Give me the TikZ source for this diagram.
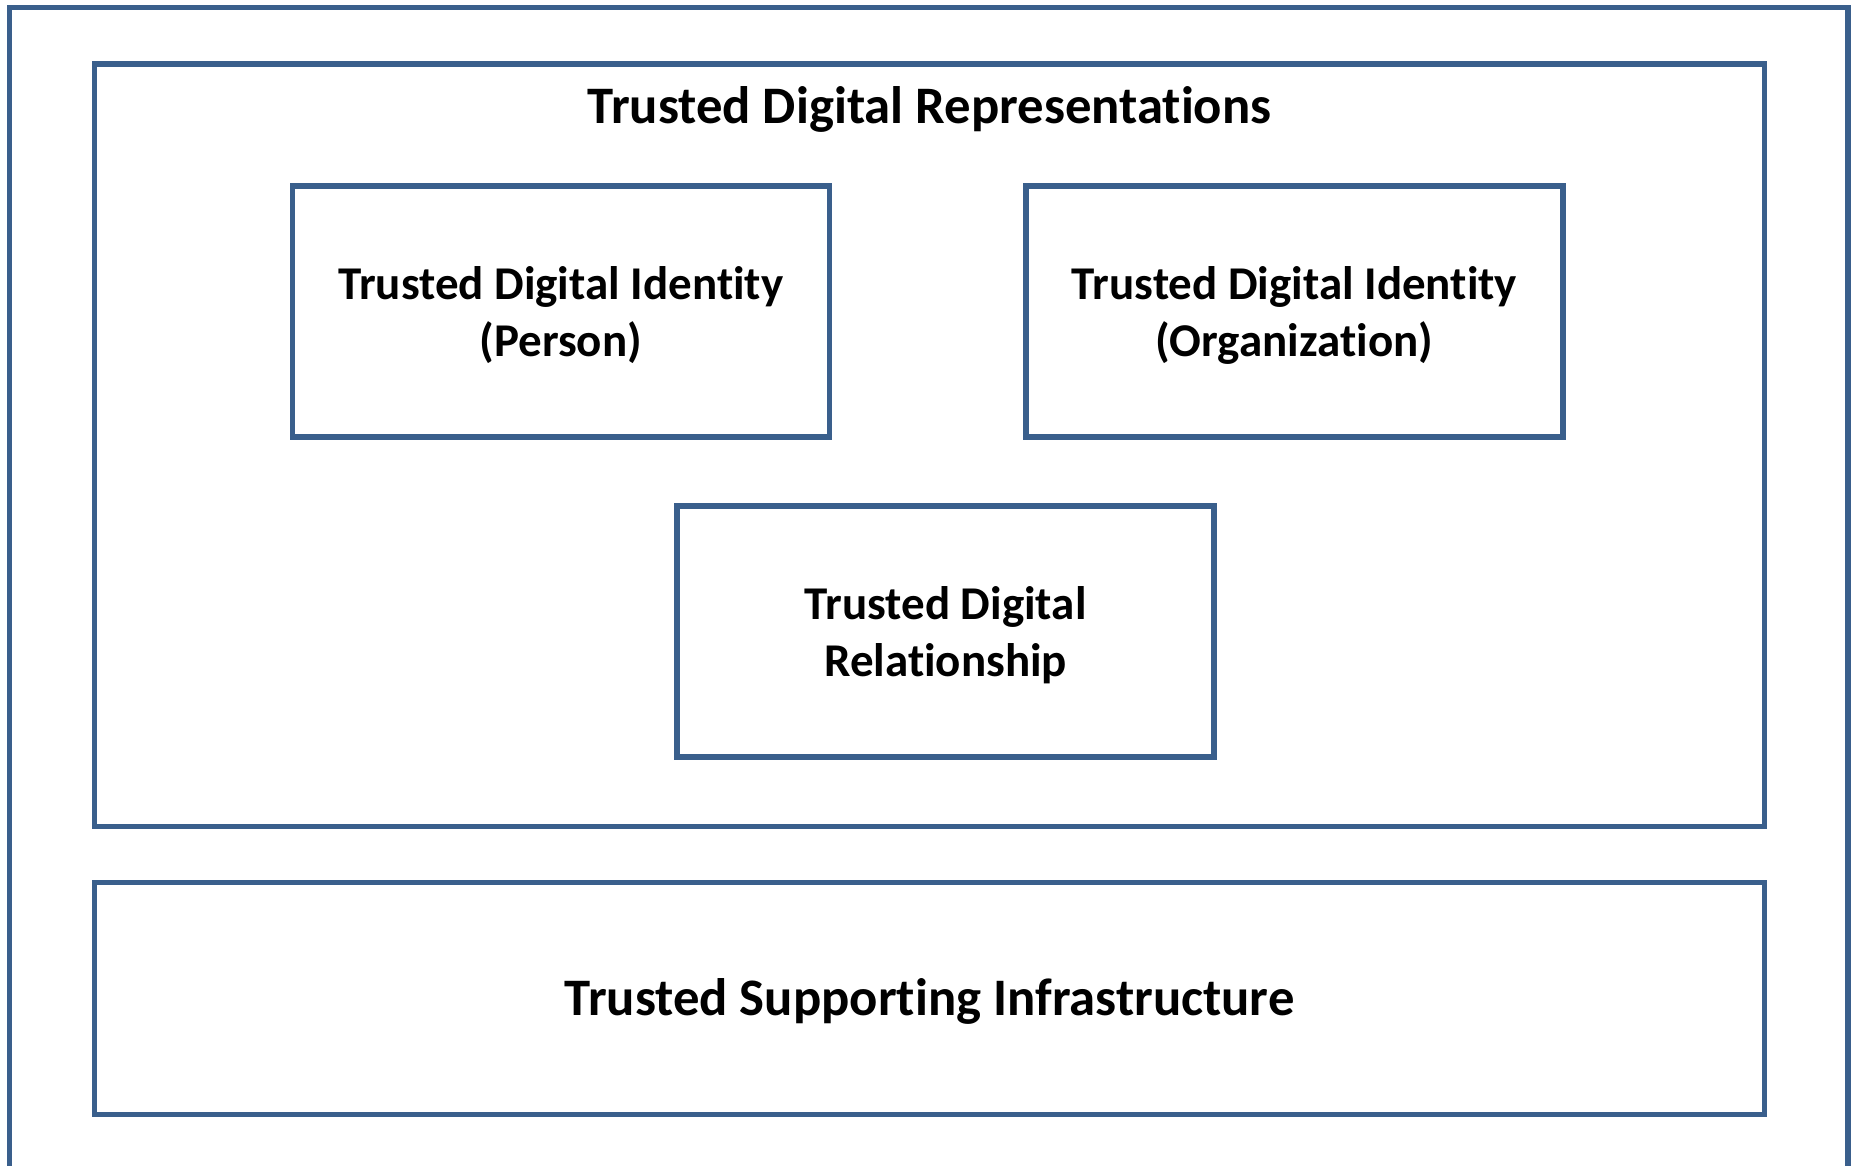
\documentclass[tikz,border=0pt]{standalone}
\usepackage{fontspec}
\setmainfont[Ligatures={CommonOff,ContextualOff,RareOff}]{Carlito}
\definecolor{boxblue}{HTML}{3A5F8C}
\begin{document}
\begin{tikzpicture}[x=1pt,y=-1pt,
  frame/.style={draw=boxblue,line width=5.5pt,rectangle,inner sep=0pt,outer sep=0pt},
  smalltext/.style={inner sep=0pt,align=center,font=\fontsize{47}{57}\selectfont\bfseries},
  bigtext/.style={inner sep=0pt,align=center,font=\fontsize{52.7}{63}\selectfont\bfseries}]
\useasboundingbox (0,0) rectangle (1857,1166);
\clip (0,0) rectangle (1857,1166);
\draw[draw=boxblue,line width=5.5pt] (9.5,1250) -- (9.5,7.5) coordinate (otl) -- (1848,7.5) -- (1848,1250);
\node[frame,minimum width=1670pt,minimum height=762.6pt] (reps) at (929.6,445.3) {};
\node[bigtext] (title) at (929.6,109) {Trusted Digital Representations};
\node[frame,minimum width=537pt,minimum height=251pt] (person) at (560.8,311.5) {};
\node[frame,minimum width=537pt,minimum height=251pt] (org) at (1294.5,311.5) {};
\node[frame,minimum width=537pt,minimum height=251pt] (rel) at (945.6,631.3) {};
\node[frame,minimum width=1670pt,minimum height=232pt] (infra) at (929.6,998.3) {};
\node[smalltext] (personT) at ([yshift=-3.5pt]person.center) {Trusted Digital Identity\\(Person)};
\node[smalltext] (orgT) at ([yshift=-3.5pt]org.center) {Trusted Digital Identity\\(Organization)};
\node[smalltext] (relT) at ([yshift=-3.5pt]rel.center) {Trusted Digital\\Relationship};
\node[bigtext] (infraT) at ([yshift=-3.5pt]infra.center) {Trusted Supporting Infrastructure};
\end{tikzpicture}
\end{document}
